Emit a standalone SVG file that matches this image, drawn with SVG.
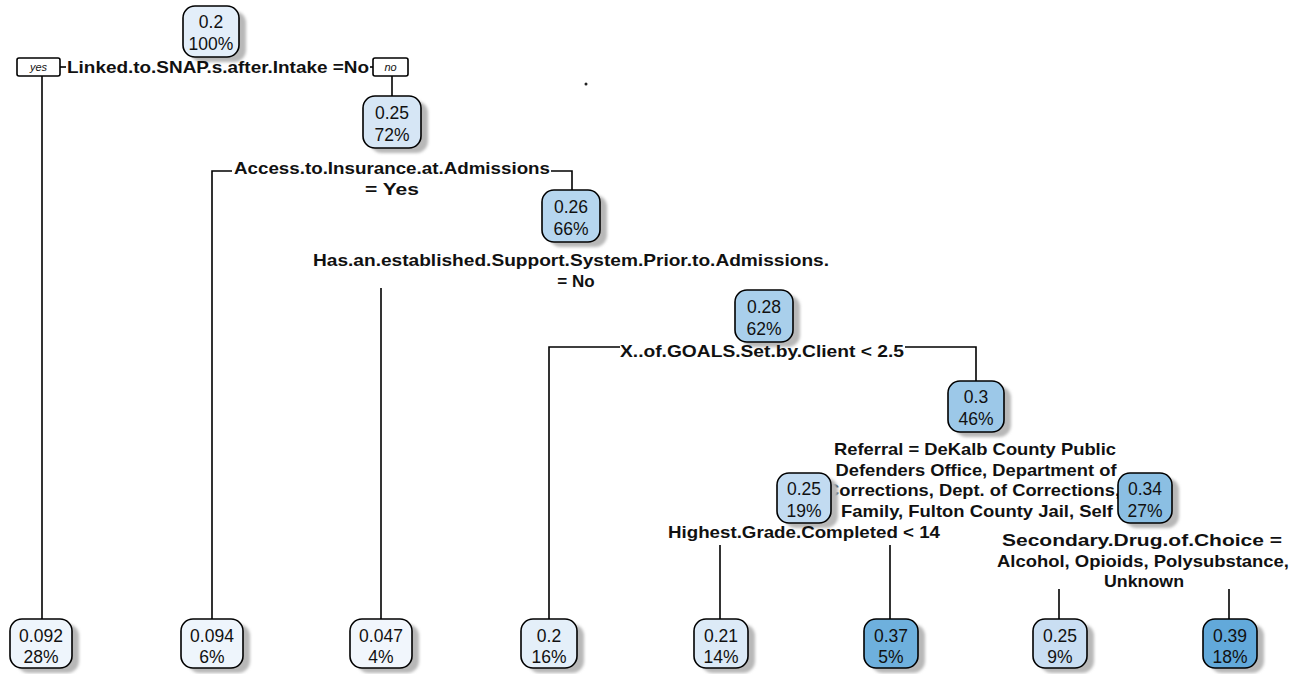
<svg xmlns="http://www.w3.org/2000/svg" width="1306" height="674" viewBox="0 0 1306 674">
  <style>
    .box { stroke: #000; stroke-width: 1.6; }
    .shadow { fill: #b8b8b8; }
    .val { font-family: "Liberation Sans", Arial, sans-serif; font-size: 17.5px; fill: #111; text-anchor: middle; }
    .split { font-family: "Liberation Sans", Arial, sans-serif; font-size: 17px; font-weight: bold; fill: #111; text-anchor: middle; }
    .tag { font-family: "Liberation Sans", Arial, sans-serif; font-size: 11px; font-style: italic; fill: #111; text-anchor: middle; }
    .edge { stroke: #000; stroke-width: 1.6; fill: none; }
  </style>
  <defs>
    <filter id="soft" x="-20%" y="-20%" width="140%" height="140%">
      <feGaussianBlur stdDeviation="1.5"/>
    </filter>
  </defs>
  <rect width="1306" height="674" fill="#fff"/>

  <!-- branch lines -->
  <g id="connectors">
    <path class="edge" d="M42 76 V619"/>
    <path class="edge" d="M60 67 H66"/>
    <path class="edge" d="M370 67 H373"/>
    <path class="edge" d="M392 76 V96"/>
    <path class="edge" d="M212 619 V171 H232"/>
    <path class="edge" d="M551 171 H572 V190"/>
    <path class="edge" d="M381 288 V619"/>
    <path class="edge" d="M549 619 V347 H620"/>
    <path class="edge" d="M905 347 H976 V381"/>
    <path class="edge" d="M720 545 V619"/>
    <path class="edge" d="M890 545 V619"/>
    <path class="edge" d="M1059 589 V619"/>
    <path class="edge" d="M1229 589 V619"/>
  </g>

  <!-- root: Linked.to.SNAP split -->
  <g id="node-root">
    <rect class="shadow" x="190" y="11" width="56" height="51" rx="12" filter="url(#soft)"/>
    <rect class="box" x="183" y="6" width="56" height="51" rx="12" fill="#e3eef9"/>
    <text class="val" x="211" y="28">0.2</text>
    <text class="val" x="211" y="50">100%</text>
    <rect class="box" x="17" y="58" width="43" height="18" rx="2" fill="#fff" stroke-width="1.2"/>
    <text class="tag" x="38.5" y="71">yes</text>
    <text class="split" x="218" y="73" textLength="302" lengthAdjust="spacingAndGlyphs">Linked.to.SNAP.s.after.Intake =No</text>
    <rect class="box" x="373" y="58" width="35" height="18" rx="2" fill="#fff" stroke-width="1.2"/>
    <text class="tag" x="390.5" y="71">no</text>
  </g>

  <g id="node-2">
    <rect class="shadow" x="370" y="101" width="58" height="52" rx="12" filter="url(#soft)"/>
    <rect class="box" x="363" y="96" width="58" height="52" rx="12" fill="#d6e6f5"/>
    <text class="val" x="392" y="119">0.25</text>
    <text class="val" x="392" y="141">72%</text>
    <text class="split" x="392" y="174" textLength="316" lengthAdjust="spacingAndGlyphs">Access.to.Insurance.at.Admissions</text>
    <text class="split" x="392" y="195" font-size="18" textLength="54" lengthAdjust="spacingAndGlyphs">= Yes</text>
  </g>

  <g id="node-4">
    <rect class="shadow" x="549" y="195" width="58" height="52" rx="12" filter="url(#soft)"/>
    <rect class="box" x="542" y="190" width="58" height="52" rx="12" fill="#b6d6ef"/>
    <text class="val" x="571" y="213">0.26</text>
    <text class="val" x="571" y="235">66%</text>
    <text class="split" x="571" y="266" textLength="516" lengthAdjust="spacingAndGlyphs">Has.an.established.Support.System.Prior.to.Admissions.</text>
    <text class="split" x="576" y="287" font-size="18">= No</text>
  </g>

  <g id="node-8">
    <rect class="shadow" x="742" y="295" width="58" height="52" rx="12" filter="url(#soft)"/>
    <rect class="box" x="735" y="290" width="58" height="52" rx="12" fill="#a9cfeb"/>
    <text class="val" x="764" y="313">0.28</text>
    <text class="val" x="764" y="335">62%</text>
    <text class="split" x="762" y="357" textLength="284" lengthAdjust="spacingAndGlyphs">X..of.GOALS.Set.by.Client &lt; 2.5</text>
  </g>

  <g id="node-17">
    <rect class="shadow" x="955" y="386" width="56" height="51" rx="12" filter="url(#soft)"/>
    <rect class="box" x="948" y="381" width="56" height="51" rx="12" fill="#9cc8e8"/>
    <text class="val" x="976" y="403">0.3</text>
    <text class="val" x="976" y="425">46%</text>
    <text class="split" x="975" y="455" textLength="282" lengthAdjust="spacingAndGlyphs">Referral = DeKalb County Public</text>
    <text class="split" x="976" y="476" textLength="281" lengthAdjust="spacingAndGlyphs">Defenders Office, Department of</text>
    <text class="split" x="973" y="496" textLength="294" lengthAdjust="spacingAndGlyphs">Corrections, Dept. of Corrections,</text>
    <text class="split" x="977" y="517" textLength="272" lengthAdjust="spacingAndGlyphs">Family, Fulton County Jail, Self</text>
  </g>

  <g id="node-34">
    <rect class="shadow" x="784" y="478" width="54" height="50" rx="12" filter="url(#soft)"/>
    <rect class="box" x="777" y="473" width="54" height="50" rx="12" fill="#c2dbf1"/>
    <text class="val" x="804" y="495">0.25</text>
    <text class="val" x="804" y="517">19%</text>
    <text class="split" x="804" y="538" textLength="272" lengthAdjust="spacingAndGlyphs">Highest.Grade.Completed &lt; 14</text>
  </g>

  <g id="node-35">
    <rect class="shadow" x="1125" y="478" width="54" height="50" rx="12" filter="url(#soft)"/>
    <rect class="box" x="1118" y="473" width="54" height="50" rx="12" fill="#8bbfe3"/>
    <text class="val" x="1145" y="495">0.34</text>
    <text class="val" x="1145" y="517">27%</text>
    <text class="split" x="1142" y="546" textLength="280" lengthAdjust="spacingAndGlyphs">Secondary.Drug.of.Choice =</text>
    <text class="split" x="1143" y="567" textLength="292" lengthAdjust="spacingAndGlyphs">Alcohol, Opioids, Polysubstance,</text>
    <text class="split" x="1144" y="587" textLength="80" lengthAdjust="spacingAndGlyphs">Unknown</text>
  </g>

  <!-- leaves -->
  <g id="leaf-3">
    <rect class="shadow" x="17" y="624" width="62" height="49" rx="12" filter="url(#soft)"/>
    <rect class="box" x="10" y="619" width="62" height="49" rx="12" fill="#eef5fc"/>
    <text class="val" x="41" y="642">0.092</text>
    <text class="val" x="41" y="663">28%</text>
  </g>
  <g id="leaf-5">
    <rect class="shadow" x="188" y="624" width="62" height="49" rx="12" filter="url(#soft)"/>
    <rect class="box" x="181" y="619" width="62" height="49" rx="12" fill="#eef5fc"/>
    <text class="val" x="212" y="642">0.094</text>
    <text class="val" x="212" y="663">6%</text>
  </g>
  <g id="leaf-9">
    <rect class="shadow" x="357" y="624" width="62" height="49" rx="12" filter="url(#soft)"/>
    <rect class="box" x="350" y="619" width="62" height="49" rx="12" fill="#f1f6fc"/>
    <text class="val" x="381" y="642">0.047</text>
    <text class="val" x="381" y="663">4%</text>
  </g>
  <g id="leaf-16">
    <rect class="shadow" x="528" y="624" width="56" height="49" rx="12" filter="url(#soft)"/>
    <rect class="box" x="521" y="619" width="56" height="49" rx="12" fill="#e4eff9"/>
    <text class="val" x="549" y="642">0.2</text>
    <text class="val" x="549" y="663">16%</text>
  </g>
  <g id="leaf-68">
    <rect class="shadow" x="701" y="624" width="54" height="49" rx="12" filter="url(#soft)"/>
    <rect class="box" x="694" y="619" width="54" height="49" rx="12" fill="#dceaf7"/>
    <text class="val" x="721" y="642">0.21</text>
    <text class="val" x="721" y="663">14%</text>
  </g>
  <g id="leaf-69">
    <rect class="shadow" x="871" y="624" width="54" height="49" rx="12" filter="url(#soft)"/>
    <rect class="box" x="864" y="619" width="54" height="49" rx="12" fill="#6eb0dd"/>
    <text class="val" x="891" y="642">0.37</text>
    <text class="val" x="891" y="663">5%</text>
  </g>
  <g id="leaf-70">
    <rect class="shadow" x="1040" y="624" width="54" height="49" rx="12" filter="url(#soft)"/>
    <rect class="box" x="1033" y="619" width="54" height="49" rx="12" fill="#c9def2"/>
    <text class="val" x="1060" y="642">0.25</text>
    <text class="val" x="1060" y="663">9%</text>
  </g>
  <g id="leaf-71">
    <rect class="shadow" x="1210" y="624" width="54" height="49" rx="12" filter="url(#soft)"/>
    <rect class="box" x="1203" y="619" width="54" height="49" rx="12" fill="#62a9da"/>
    <text class="val" x="1230" y="642">0.39</text>
    <text class="val" x="1230" y="663">18%</text>
  </g>

  <circle cx="586" cy="84" r="1.5" fill="#222"/>
</svg>
